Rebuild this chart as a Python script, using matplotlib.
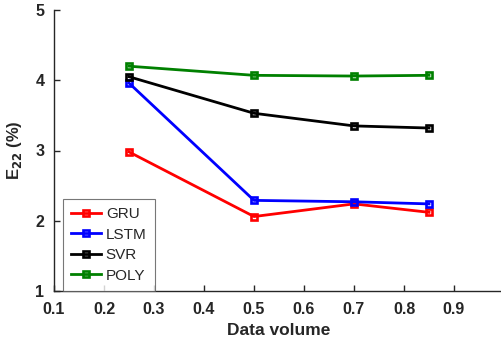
import matplotlib
matplotlib.use("Agg")
import matplotlib.pyplot as plt

plt.rcParams['font.family'] = ['Liberation Sans', 'DejaVu Sans']

# datos
x = [0.25, 0.5, 0.7, 0.85]
gru = [2.98, 2.06, 2.24, 2.12]
lstm = [3.96, 2.29, 2.27, 2.24]
svr = [4.05, 3.53, 3.35, 3.32]
poly = [4.20, 4.07, 4.06, 4.07]

series = [("GRU", gru, "#ff0000"),
          ("LSTM", lstm, "#0000ff"),
          ("SVR", svr, "#000000"),
          ("POLY", poly, "#008000")]

fig = plt.figure(figsize=(5.01, 3.45), dpi=100)
ax = fig.add_axes([54 / 501, 1 - 291 / 345, 450 / 501, 281 / 345])

for name, vals, col in series:
    ax.plot(x, vals, color=col, lw=2, marker="s", ms=4.6, mfc="none",
            mew=1.9, label=name)

ax.set_xlim(0.1, 1.0)
ax.set_ylim(1, 5)
ax.set_xticks([0.1, 0.2, 0.3, 0.4, 0.5, 0.6, 0.7, 0.8, 0.9])
ax.set_yticks([1, 2, 3, 4, 5])
ax.spines["top"].set_visible(False)
ax.spines["right"].set_visible(False)
for s in ("left", "bottom"):
    ax.spines[s].set_color("#262626")
    ax.spines[s].set_linewidth(1.0)
ax.tick_params(direction="in", length=4, width=1, colors="#262626",
               labelsize=11.5)
ax.tick_params(axis="x", pad=8)
ax.tick_params(axis="y", pad=7)
for lab in ax.get_xticklabels() + ax.get_yticklabels():
    lab.set_fontweight("bold")

ax.set_xlabel("Data volume", fontsize=12.5, fontweight="bold", color="#262626", labelpad=4)
ax.set_ylabel("E$_{\\mathbf{22}}$ (%)", fontsize=12, fontweight="bold", color="#262626", labelpad=8)

leg = ax.legend(loc="lower left", fontsize=11, frameon=True, fancybox=False,
                edgecolor="#555555", borderpad=0.55, labelspacing=0.42,
                handlelength=1.95, handletextpad=0.3, borderaxespad=0,
                bbox_to_anchor=(0.02, 0.0))
leg.get_frame().set_linewidth(0.8)
for t in leg.get_texts():
    t.set_color("#262626")

fig.savefig("out.png", dpi=100)
